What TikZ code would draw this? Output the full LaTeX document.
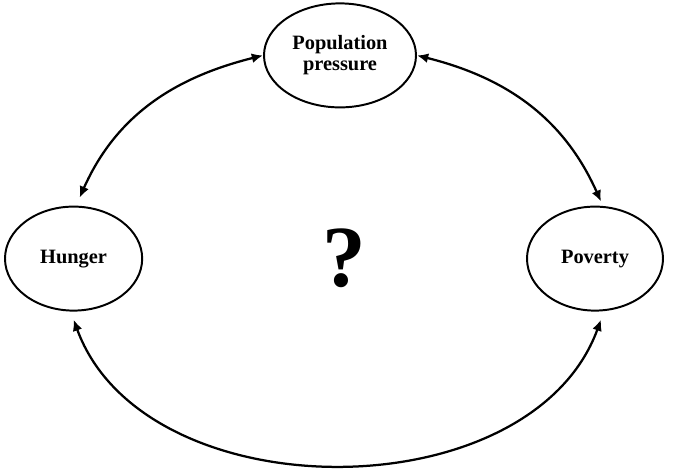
\documentclass[tikz,border=0pt]{standalone}
\usepackage{fontspec}
\setmainfont{Liberation Serif}
\usepackage{tikz}
\usetikzlibrary{shapes.geometric,arrows.meta}
\definecolor{primary}{RGB}{0, 0, 0}

\begin{document}
\begin{tikzpicture}[
  blob/.style={ellipse,draw=primary,line width=1.4pt,inner sep=0pt,minimum height=2.6cm,font=\fontsize{14.5}{15}\selectfont\bfseries,align=center},
  link/.style={primary,line width=1.6pt,{Latex[length=8pt,width=7pt]}-{Latex[length=8pt,width=7pt]}}]
\useasboundingbox (0,0) rectangle (16.825,11.825);
\node[blob,minimum width=3.8cm] (pop) at (8.5,10.44) {Population\\pressure};
\node[blob,minimum width=3.43cm] (hun) at (1.84,5.36) {Hunger};
\node[blob,minimum width=3.4cm] (pov) at (14.875,5.36) {Poverty};
\node[primary,font=\fontsize{62}{62}\selectfont\bfseries] (q) at (8.6,5.375) {?};
\draw[link] (pop.west) to[out=194,in=66] ([xshift=0.15cm,yshift=0.2cm]hun.north);
\draw[link] (pop.east) to[out=-14,in=114] ([xshift=0.15cm,yshift=0.1cm]pov.north);
\draw[link] ([yshift=-0.2cm]hun.south) to[out=-70,in=-110] ([xshift=0.15cm,yshift=-0.2cm]pov.south);
\end{tikzpicture}
\end{document}
